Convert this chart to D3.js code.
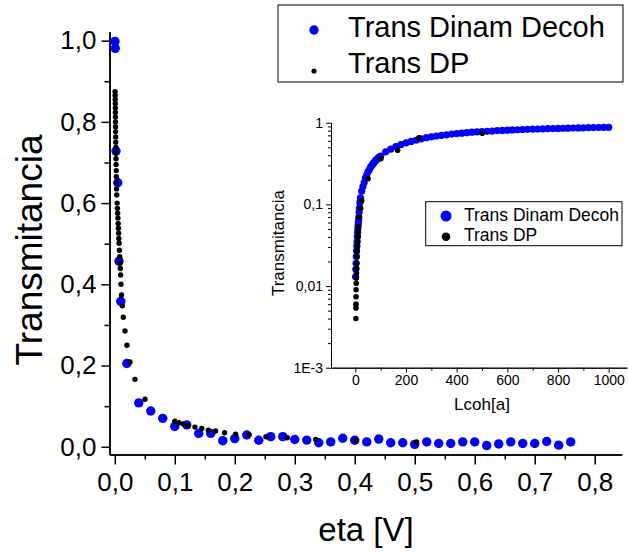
<!DOCTYPE html>
<html><head><meta charset="utf-8">
<script src="https://cdn.jsdelivr.net/npm/d3@7"></script>
<style>
body{margin:0;background:#fff}
svg{display:block}
text{font-family:"Liberation Sans",Arial,sans-serif;fill:#000}
</style>
</head><body>
<svg id="c" width="628" height="552"></svg>
<script>
// ---------- data ----------
const seriesNames = ["Trans Dinam Decoh", "Trans DP"];

// main plot: Transmitancia vs eta [V]
const mainDecohEta = [0.0003,0.0008,0.002,0.005,0.007,0.010,0.02,0.04,0.06,0.08,0.10,0.12,0.14,0.16,0.18,0.20,0.22,0.24,0.26,0.28,0.30,0.32,0.34,0.36,0.38,0.40,0.42,0.44,0.46,0.48,0.50,0.52,0.54,0.56,0.58,0.60,0.62,0.64,0.66,0.68,0.70,0.72,0.74,0.76];
const mainDecohT   = [0.998,0.981,0.728,0.650,0.457,0.358,0.205,0.108,0.088,0.070,0.050,0.054,0.033,0.033,0.015,0.020,0.029,0.016,0.025,0.025,0.018,0.0165,0.010,0.012,0.021,0.016,0.012,0.019,0.010,0.010,0.006,0.012,0.008,0.008,0.012,0.012,0.003,0.007,0.012,0.008,0.008,0.013,0.004,0.012];

const mainDPEta = [0.0005,0.0006,0.0007,0.0008,0.0009,0.0010,0.0011,0.0012,0.0013,0.0014,0.0015,0.0016,0.0018,0.0019,0.0020,0.0022,0.0024,0.0026,0.0028,0.0030,0.0033,
  0.0040,0.0044,0.0048,0.0052,0.0056,0.0060,0.0064,0.0068,0.0072,0.0077,0.0082,0.0087,0.0092,0.0097,0.0103,0.0112,
  0.0125,0.0142,0.017,0.0203,0.0253,0.0337,0.0503,
  0.100,0.107,0.114,0.1225,0.1337,0.145,0.156,0.168,0.183,0.2015,0.224,0.252,0.2875,0.335,0.402,0.503];
const mainDPT = [0.874,0.865,0.855,0.845,0.834,0.823,0.812,0.800,0.788,0.776,0.763,0.750,0.737,0.723,0.709,0.695,0.680,0.665,0.650,0.635,0.620,
  0.600,0.587,0.575,0.563,0.550,0.538,0.526,0.513,0.501,0.484,0.468,0.452,0.439,0.423,0.400,0.374,
  0.347,0.319,0.285,0.250,0.209,0.166,0.117,
  0.063,0.059,0.056,0.052,0.0485,0.045,0.041,0.0387,0.0345,0.031,0.0296,0.0246,0.0222,0.018,0.0148,0.0116];

const mainXTicks = [0,0.1,0.2,0.3,0.4,0.5,0.6,0.7,0.8];
const mainXMinor = [0.05,0.15,0.25,0.35,0.45,0.55,0.65,0.75];
const mainYTicks = [0,0.2,0.4,0.6,0.8,1.0];
const mainYMinor = [0.1,0.3,0.5,0.7,0.9];

// inset: Transmitancia (log) vs Lcoh[a]
const insetDecohL = [1,2,3,4,5,6,7,8,9,10,11,12,13,14,15,16,18,20,25,30,35,40,45,50,55,60,65,70,75,80,85,90,95,
  100,120,140,160,180,200,220,240,260,280,300,320,340,360,380,400,420,440,460,480,500,520,540,560,580,600,
  620,640,660,680,700,720,740,760,780,800,820,840,860,880,900,920,940,960,980,1000];
const insetDecohT = [0.013,0.016,0.019,0.023,0.027,0.031,0.035,0.040,0.045,0.050,0.055,0.060,0.065,0.070,0.080,0.090,0.105,0.120,0.145,0.165,0.185,0.210,0.229,0.250,0.265,0.285,0.300,0.315,0.330,0.345,0.355,0.370,0.380,
  0.390,0.440,0.475,0.510,0.540,0.565,0.590,0.610,0.635,0.655,0.670,0.685,0.700,0.710,0.725,0.735,0.745,0.755,0.765,0.770,0.780,0.785,0.790,0.800,0.805,0.810,
  0.815,0.820,0.825,0.830,0.833,0.837,0.840,0.845,0.848,0.852,0.855,0.858,0.861,0.864,0.866,0.869,0.871,0.873,0.876,0.878];

const insetDPL = [2,2.5,2.5,3,3,3.5,4,4.5,5,5.5,6,7,8,9,10,11,12,14,21,25,50,101,167,251,501];
const insetDPT = [0.0040,0.0054,0.0060,0.0074,0.0090,0.0108,0.0125,0.0143,0.0165,0.019,0.0229,0.0264,0.0303,0.0349,0.0403,0.0463,0.0533,0.0695,0.0895,0.111,0.206,0.362,0.459,0.655,0.742];

const insetXTicks = [0,200,400,600,800,1000];
const insetXMinor = [100,300,500,700,900];
const insetYTicks = [1,0.1,0.01,0.001];
const insetYLabels = ["1","0,1","0,01","1E-3"];

const BLUE = "#0000ff", BLACK = "#000000";

// ---------- drawing ----------
const svg = d3.select("#c");
const fmtComma = d3.formatLocale({decimal:",",thousands:".",grouping:[3],currency:["",""]}).format(".1f");

function styleAxis(g, size, sw){
  g.attr("font-family", null).attr("font-size", null);
  g.selectAll("text").style("font-size", size + "px");
  g.selectAll("path,line").attr("stroke", "#000").attr("stroke-width", sw);
}

// main scales
const x = d3.scaleLinear().domain([-0.0088, 0.845]).range([109.5, 621.7]);
const y = d3.scaleLinear().domain([-0.019, 1.022]).range([454.5, 31.7]);

const gx = svg.append("g").attr("transform","translate(0,454.5)")
  .call(d3.axisBottom(x).tickValues(mainXTicks).tickSize(10).tickPadding(8).tickSizeOuter(0).tickFormat(fmtComma));
styleAxis(gx, 26, 1.5);
const gxm = svg.append("g").attr("transform","translate(0,454.5)")
  .call(d3.axisBottom(x).tickValues(mainXMinor).tickSize(5).tickSizeOuter(0).tickFormat(""));
styleAxis(gxm, 26, 1.5);

const gy = svg.append("g").attr("transform","translate(109.5,0)")
  .call(d3.axisLeft(y).tickValues(mainYTicks).tickSize(8).tickPadding(5).tickSizeOuter(0).tickFormat(fmtComma));
styleAxis(gy, 26, 1.5);
const gym = svg.append("g").attr("transform","translate(109.5,0)")
  .call(d3.axisLeft(y).tickValues(mainYMinor).tickSize(5).tickSizeOuter(0).tickFormat(""));
styleAxis(gym, 26, 1.5);

svg.append("text").attr("transform","translate(29,250) rotate(-90)")
  .attr("text-anchor","middle").attr("dominant-baseline","central")
  .style("font-size","37px").text("Transmitancia");
svg.append("text").attr("x",366).attr("y",541).attr("text-anchor","middle")
  .style("font-size","33px").text("eta [V]");

const mainDecoh = mainDecohEta.map((e,i)=>({x:e,y:mainDecohT[i]}));
const mainDP = mainDPEta.map((e,i)=>({x:e,y:mainDPT[i]}));

svg.append("g").selectAll("circle").data(mainDecoh).join("circle")
  .attr("cx",d=>x(d.x)).attr("cy",d=>y(d.y)).attr("r",4.7).attr("fill",BLUE);
svg.append("g").selectAll("circle").data(mainDP).join("circle")
  .attr("cx",d=>x(d.x)).attr("cy",d=>y(d.y)).attr("r",2.7).attr("fill",BLACK);

// main legend
const lg = svg.append("g");
lg.append("rect").attr("x",278).attr("y",5).attr("width",345).attr("height",77)
  .attr("fill","#fff").attr("stroke","#000").attr("stroke-width",1);
lg.append("circle").attr("cx",314).attr("cy",30).attr("r",4.7).attr("fill",BLUE);
lg.append("circle").attr("cx",314).attr("cy",71).attr("r",2.6).attr("fill",BLACK);
lg.append("text").attr("x",348).attr("y",37).style("font-size","29px").text(seriesNames[0]);
lg.append("text").attr("x",348).attr("y",72.5).style("font-size","29px").text(seriesNames[1]);

// inset
const xi = d3.scaleLinear().domain([-96, 1071]).range([331, 626.7]);
const yi = d3.scaleLog().domain([0.001, 1]).range([367.7, 122.7]);

const gxi = svg.append("g").attr("transform","translate(0,367.7)")
  .call(d3.axisBottom(xi).tickValues(insetXTicks).tickSize(5).tickPadding(2).tickSizeOuter(0).tickFormat(d3.format("d")));
styleAxis(gxi, 14, 1);
const gxim = svg.append("g").attr("transform","translate(0,367.7)")
  .call(d3.axisBottom(xi).tickValues(insetXMinor).tickSize(3).tickSizeOuter(0).tickFormat(""));
styleAxis(gxim, 14, 1);

const insetYMinor = yi.ticks().filter(v => !insetYTicks.some(t => Math.abs(t - v) / t < 1e-6));
const gyi = svg.append("g").attr("transform","translate(331,0)")
  .call(d3.axisLeft(yi).tickValues(insetYTicks).tickSize(5).tickPadding(3).tickSizeOuter(0)
    .tickFormat((d,i)=>insetYLabels[i]));
styleAxis(gyi, 14, 1);
const gyim = svg.append("g").attr("transform","translate(331,0)")
  .call(d3.axisLeft(yi).tickValues(insetYMinor).tickSize(3).tickSizeOuter(0).tickFormat(""));
styleAxis(gyim, 14, 1);

svg.append("text").attr("transform","translate(278,243) rotate(-90)")
  .attr("text-anchor","middle").attr("dominant-baseline","central")
  .style("font-size","17px").text("Transmitancia");
svg.append("text").attr("x",482).attr("y",410).attr("text-anchor","middle")
  .style("font-size","17px").text("Lcoh[a]");

const insetDecoh = insetDecohL.map((l,i)=>({x:l,y:insetDecohT[i]}));
const insetDP = insetDPL.map((l,i)=>({x:l,y:insetDPT[i]}));
svg.append("g").selectAll("circle").data(insetDecoh).join("circle")
  .attr("cx",d=>xi(d.x)).attr("cy",d=>yi(d.y)).attr("r",3.6).attr("fill",BLUE);
svg.append("g").selectAll("circle").data(insetDP).join("circle")
  .attr("cx",d=>xi(d.x)).attr("cy",d=>yi(d.y)).attr("r",2.8).attr("fill",BLACK);

// inset legend
const ig = svg.append("g");
ig.append("rect").attr("x",425.7).attr("y",201.7).attr("width",196.3).attr("height",44)
  .attr("fill","#fff").attr("stroke","#000").attr("stroke-width",1);
ig.append("circle").attr("cx",446).attr("cy",216).attr("r",5.5).attr("fill",BLUE);
ig.append("circle").attr("cx",446).attr("cy",236.7).attr("r",4.3).attr("fill",BLACK);
ig.append("text").attr("x",464).attr("y",220.5).style("font-size","17.5px").text(seriesNames[0]);
ig.append("text").attr("x",464).attr("y",240.5).style("font-size","17.5px").text(seriesNames[1]);
</script>
</body></html>
